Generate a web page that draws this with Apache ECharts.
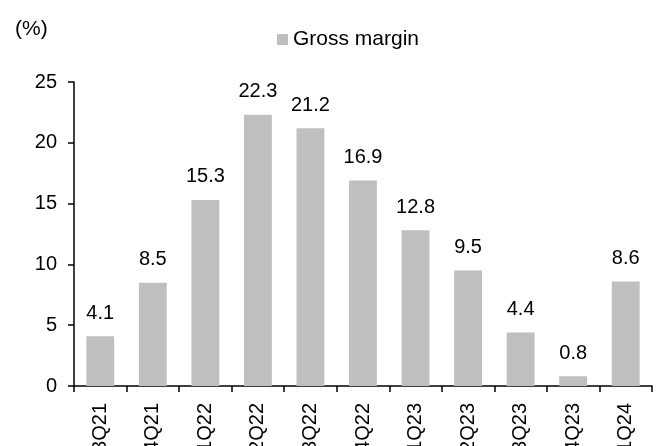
<!DOCTYPE html>
<html><head><meta charset="utf-8">
<script src="https://cdn.jsdelivr.net/npm/echarts@6/dist/echarts.min.js"></script>
<style>html,body{margin:0;padding:0;background:#fff}#c{width:662px;height:446px}</style>
</head><body><div id="c"></div>
<script>
var categories = ['3Q21','4Q21','1Q22','2Q22','3Q22','4Q22','1Q23','2Q23','3Q23','4Q23','1Q24'];
var grossMargin = [4.1, 8.5, 15.3, 22.3, 21.2, 16.9, 12.8, 9.5, 4.4, 0.8, 8.6];
var yTicks = [0, 5, 10, 15, 20, 25];
var font = 'Liberation Sans, Arial, sans-serif';
var chart = echarts.init(document.getElementById('c'));
chart.setOption({
  animation: false,
  textStyle: {fontFamily: font},
  graphic: [{type: 'text', left: 15, top: 19, style: {text: '(%)', font: '21px ' + font, fill: '#000'}}],
  legend: {
    data: ['Gross margin'], top: 29, left: 277, itemWidth: 11, itemHeight: 11, padding: 0,
    icon: 'rect', textStyle: {fontSize: 21, lineHeight: 21, color: '#000', fontFamily: font}
  },
  grid: {left: 74, right: 10, top: 82, bottom: 60, containLabel: false, outerBoundsMode: 'none'},
  xAxis: {
    type: 'category', data: categories,
    axisLine: {lineStyle: {color: '#000', width: 1.5}},
    axisTick: {show: true, length: 6, lineStyle: {color: '#000', width: 1.5}},
    axisLabel: {rotate: 90, fontSize: 20, color: '#000', fontFamily: font, margin: 17, interval: 0,
      padding: [0, 0, 12, 0]}
  },
  yAxis: {
    type: 'value', min: yTicks[0], max: yTicks[yTicks.length-1], interval: 5,
    splitLine: {show: false},
    axisLine: {show: true, lineStyle: {color: '#000', width: 1.5}},
    axisTick: {show: true, length: 6, lineStyle: {color: '#000', width: 1.5}},
    axisLabel: {fontSize: 20, color: '#000', fontFamily: font, margin: 17}
  },
  series: [{
    name: 'Gross margin', type: 'bar', data: grossMargin, barCategoryGap: '47%',
    itemStyle: {color: '#BFBFBF'},
    label: {show: true, position: 'top', distance: 13, fontSize: 20, color: '#000', fontFamily: font,
      formatter: function(p){return p.value.toFixed(1);}}
  }]
});
</script></body></html>
